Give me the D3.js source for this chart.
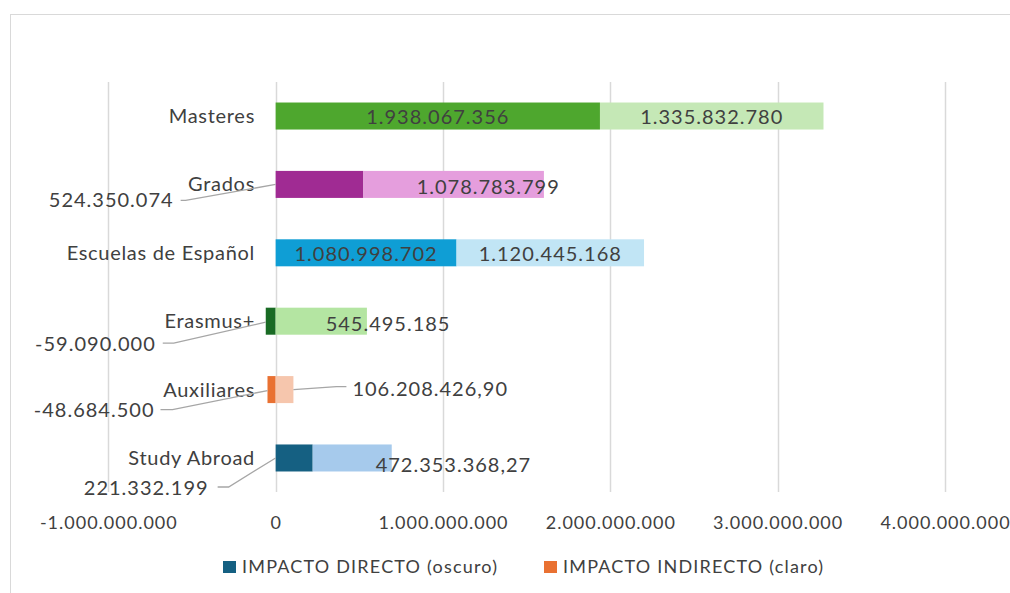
<!DOCTYPE html>
<html>
<head>
<meta charset="utf-8">
<script src="https://cdn.jsdelivr.net/npm/d3@7"></script>
<style>
  html, body { margin: 0; padding: 0; background: #fff; }
  svg { display: block; }
  text { font-family: Lato, "Liberation Sans", sans-serif; fill: #404040; }
</style>
</head>
<body>
<svg id="chart" width="1010" height="593"></svg>
<script>
// ---------- DATA ----------
const categories = ["Masteres", "Grados", "Escuelas de Español", "Erasmus+", "Auxiliares", "Study Abroad"];
const directValues = [1938067356, 524350074, 1080998702, -59090000, -48684500, 221332199];
const indirectValues = [1335832780, 1078783799, 1120445168, 545495185, 106208426.90, 472353368.27];
const tickValues = [-1000000000, 0, 1000000000, 2000000000, 3000000000, 4000000000];
const seriesNames = ["IMPACTO DIRECTO (oscuro)", "IMPACTO INDIRECTO (claro)"];
const darkColors  = ["#4EA72E", "#A02B93", "#0F9ED5", "#196B24", "#E97132", "#156082"];
const lightColors = ["#C5E8B6", "#E59EDD", "#C1E5F5", "#B4E5A2", "#F6C6AD", "#A6CAEC"];
const legendColors = ["#156082", "#E97132"];

// ---------- LABEL LAYOUT (style only) ----------
const directLayout = [
  { mode: "center" },
  { mode: "callout", anchor: "end", dx: -102, dy: 16, leader: [[-95, 16], [-90, 16]], from: "start" },
  { mode: "center" },
  { mode: "callout", anchor: "end", dx: -110, dy: 23, leader: [[-103, 22], [-92, 22]], from: "left" },
  { mode: "callout", anchor: "end", dx: -113, dy: 20, leader: [[-107, 20], [-95, 20]], from: "left" },
  { mode: "callout", anchor: "end", dx: -67, dy: 30, leader: [[-58, 29], [-47, 29]], from: "start" }
];
const indirectLayout = [
  { mode: "center" },
  { mode: "free", anchor: "start", dx: 141, dy: 3 },
  { mode: "center" },
  { mode: "free", anchor: "start", dx: 50, dy: 3 },
  { mode: "callout", anchor: "start", dx: 59, dy: -1, leader: [[43, -3], [53, -3]], from: "right" },
  { mode: "free", anchor: "start", dx: 100, dy: 7 }
];

// ---------- SETUP ----------
const svg = d3.select("#chart");
const W = 1010, H = 593;

svg.append("rect").attr("x", 10.5).attr("y", 14.5).attr("width", W + 10).attr("height", H + 10)
  .attr("fill", "none").attr("stroke", "#D9D9D9").attr("stroke-width", 1);

const plot = { left: 108.3, right: 945, top: 82, bottom: 492 };
const x = d3.scaleLinear().domain([tickValues[0], tickValues[tickValues.length - 1]]).range([plot.left, plot.right]);
const y = d3.scaleBand().domain(categories).range([plot.top, plot.bottom]).paddingInner(0.605).paddingOuter(0.3);

const esLocale = d3.formatLocale({ decimal: ",", thousands: ".", grouping: [3], currency: ["", "€"], minus: "-" });
const fmtInt = esLocale.format(",.0f");
const fmtDec = esLocale.format(",.2f");
const fmt = v => Number.isInteger(v) ? fmtInt(v) : fmtDec(v);

// gridlines
svg.append("g").selectAll("line").data(tickValues).join("line")
  .attr("x1", d => Math.round(x(d)) + 0.5).attr("x2", d => Math.round(x(d)) + 0.5)
  .attr("y1", plot.top).attr("y2", plot.bottom)
  .attr("stroke", "#D9D9D9").attr("stroke-width", 1.5);

// x axis labels
const xAxis = d3.axisBottom(x).tickValues(tickValues).tickSize(0).tickPadding(0).tickFormat(d => fmtInt(d));
const gx = svg.append("g").attr("transform", `translate(0,${plot.bottom + 37})`).call(xAxis);
gx.select(".domain").remove();
gx.selectAll("text").attr("fill", "#595959").style("font-size", "18px").style("letter-spacing", "1px")
  .attr("dy", 0).attr("y", 0).style("font-family", "Lato, 'Liberation Sans', sans-serif");

// bars
const rows = categories.map((c, i) => {
  const d = directValues[i], ind = indirectValues[i];
  let pos = 0, neg = 0;
  const seg = v => {
    if (v >= 0) { const s = [pos, pos + v]; pos += v; return s; }
    const s = [neg + v, neg]; neg += v; return s;
  };
  return { c, i, d, ind, dSeg: seg(d), iSeg: seg(ind) };
});

const bh = y.bandwidth();
const gBars = svg.append("g");
rows.forEach(r => {
  gBars.append("rect").attr("x", x(r.dSeg[0])).attr("width", x(r.dSeg[1]) - x(r.dSeg[0]))
    .attr("y", y(r.c)).attr("height", bh).attr("fill", darkColors[r.i]);
  gBars.append("rect").attr("x", x(r.iSeg[0])).attr("width", x(r.iSeg[1]) - x(r.iSeg[0]))
    .attr("y", y(r.c)).attr("height", bh).attr("fill", lightColors[r.i]);
});

// category labels
svg.append("g").selectAll("text").data(categories).join("text")
  .attr("x", 255).attr("y", d => y(d) + bh / 2).attr("dy", "0.35em")
  .attr("text-anchor", "end").style("font-size", "20px").style("letter-spacing", "0.7px")
  .attr("fill", "#595959").text(d => d);

// value labels
const gLab = svg.append("g");
function drawLabel(r, seg, value, lay) {
  const cy = y(r.c) + bh / 2;
  const x0 = x(seg[0]), x1 = x(seg[1]);
  let tx, ty = cy, anchor = "middle";
  if (lay.mode === "center") {
    tx = (x0 + x1) / 2; ty = cy + 1;
  } else {
    const ref = lay.from === "left" ? x0 : lay.from === "right" ? x1 : x(0);
    tx = ref + lay.dx; ty = cy + lay.dy; anchor = lay.anchor;
    if (lay.mode === "callout") {
      const attach = lay.from === "right" ? [x1, cy] : lay.from === "left" ? [x0, cy + 1] : [x(0), cy];
      const p1 = [ref + lay.leader[0][0], cy + lay.leader[0][1]];
      const p2 = [ref + lay.leader[1][0], cy + lay.leader[1][1]];
      const pts = lay.from === "right" ? [attach, p1, p2] : [p1, p2, attach];
      gLab.append("path").attr("d", d3.line()(pts))
        .attr("fill", "none").attr("stroke", "#A6A6A6").attr("stroke-width", 1.3);
    }
  }
  gLab.append("text").attr("x", tx).attr("y", ty).attr("dy", "0.35em").attr("text-anchor", anchor)
    .style("font-size", "20px").style("letter-spacing", "1px").text(fmt(value));
}
rows.forEach(r => {
  drawLabel(r, r.dSeg, r.d, directLayout[r.i]);
  drawLabel(r, r.iSeg, r.ind, indirectLayout[r.i]);
});

// legend
const legend = svg.append("g").attr("transform", "translate(223,561)");
const legX = [0, 321];
seriesNames.forEach((n, i) => {
  const g = legend.append("g").attr("transform", `translate(${legX[i]},0)`);
  g.append("rect").attr("width", 13).attr("height", 12).attr("fill", legendColors[i]);
  g.append("text").attr("x", 19).attr("y", 6).attr("dy", "0.35em").style("font-size", "18px")
    .style("letter-spacing", "1.2px").attr("fill", "#595959").text(n);
});
</script>
</body>
</html>
